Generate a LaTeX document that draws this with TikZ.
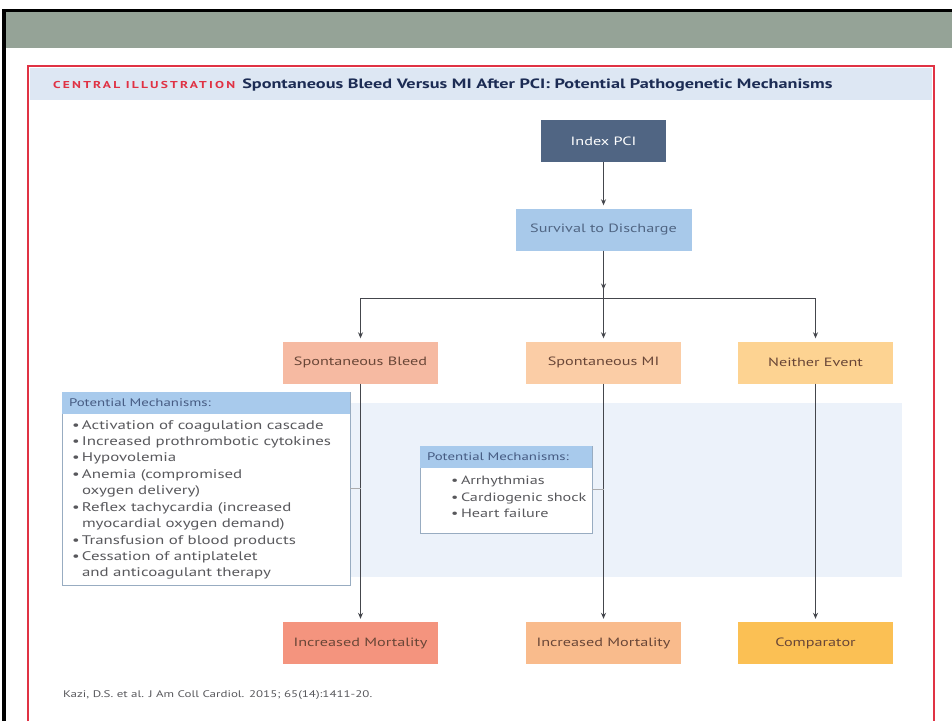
\documentclass[tikz,border=0pt]{standalone}
\usepackage{fontspec}
\setmainfont{PT Sans}[FakeStretch=1.35]
\usepackage{xcolor}
\usepackage{tikz}
\usetikzlibrary{arrows.meta, positioning, calc}
\definecolor{band}{RGB}{149, 163, 151}
\definecolor{redfr}{RGB}{224, 50, 68}
\definecolor{ttlbg}{RGB}{221, 231, 243}
\definecolor{navy}{RGB}{28, 44, 84}
\definecolor{slate}{RGB}{80, 101, 131}
\definecolor{sky}{RGB}{168, 201, 234}
\definecolor{hdr}{RGB}{168, 202, 236}
\definecolor{pale}{RGB}{236, 242, 250}
\definecolor{bleedA}{RGB}{246, 186, 162}
\definecolor{miA}{RGB}{251, 205, 166}
\definecolor{nothA}{RGB}{253, 211, 146}
\definecolor{bleedB}{RGB}{244, 148, 126}
\definecolor{miB}{RGB}{249, 187, 140}
\definecolor{nothB}{RGB}{251, 192, 84}
\definecolor{ink}{RGB}{105, 70, 55}
\definecolor{grtx}{RGB}{88, 88, 92}
\definecolor{lnc}{RGB}{68, 70, 76}
\newcommand{\itm}{\makebox[10pt][l]{\textbullet}}
\newcommand{\ind}{\hspace*{10pt}}

\begin{document}
\begin{tikzpicture}[x=1pt, y=-1pt,
    >={Stealth[length=6pt, width=5pt]},
    box/.style={rectangle, fill=#1, minimum width=155pt, minimum height=42pt,
      inner sep=0pt, align=center, text=ink, font=\fontsize{12}{14}\selectfont},
    mech/.style={rectangle, draw=hdr!60!gray, fill=white, line width=0.6pt, inner sep=0pt},
    mhead/.style={rectangle, fill=hdr, text width=#1, minimum height=22pt,
      inner xsep=7pt, inner ysep=0pt, align=left, text=navy!70!hdr,
      font=\fontsize{11}{13}\selectfont},
    mlist/.style={inner sep=0pt, align=left, text=grtx,
      font=\fontsize{12.5}{16.4}\selectfont},
    arr/.style={->, line width=1.2pt, lnc, shorten >=3pt},
    ln/.style={line width=1.2pt, lnc},
    tick/.style={line width=0.7pt, lnc!45}
  ]
  \useasboundingbox (0,0) rectangle (952,721);
  % slide frame
  \fill[black] (2,9) rectangle (952,12);
  \fill[black] (2,9) rectangle (6,721);
  \fill[band] (6,12) rectangle (952,48);
  \draw[redfr, line width=2.2pt] (28,721) -- (28,66) -- (934,66) -- (934,721);
  \fill[ttlbg] (30,68) rectangle (932,100);
  \node[anchor=west, inner sep=0pt] (title) at (53,85.5)
    {{\color{redfr}\fontsize{10}{10}\bfseries\addfontfeatures{LetterSpace=22}CENTRAL ILLUSTRATION}\hspace{7pt}%
     {\color{navy}\fontsize{13.5}{15}\bfseries Spontaneous Bleed Versus MI After PCI: Potential Pathogenetic Mechanisms}};
  % shaded band behind the mechanisms
  \fill[pale] (350,403) rectangle (902,577);

  \node[box=slate, minimum width=125pt, text=white] (pci) at (603.5,141) {Index PCI};
  \node[box=sky, minimum width=176pt, text=slate] (surv) at (603.5,229.5) {Survival to Discharge};
  \coordinate (split) at (603.5,298.5);

  \node[box=bleedA] (bleed) at (360.5,362.5) {Spontaneous Bleed};
  \node[box=miA] (mi) at (603.5,362.5) {Spontaneous MI};
  \node[box=nothA] (noth) at (815.5,362.5) {Neither Event};

  \node[box=bleedB] (mort1) at (360.5,643) {Increased Mortality};
  \node[box=miB] (mort2) at (603.5,643) {Increased Mortality};
  \node[box=nothB] (comp) at (815.5,643) {Comparator};

  % mechanisms
  \node[mech, minimum width=288pt, minimum height=193pt] (mechL) at (206,488.5) {};
  \node[mhead=274pt, anchor=north] (mechLh) at (mechL.north) {Potential Mechanisms:};
  \node[mlist, anchor=north west] (listL) at ([xshift=10pt, yshift=-6pt]mechLh.south west)
    {\itm Activation of coagulation cascade\\
     \itm Increased prothrombotic cytokines\\
     \itm Hypovolemia\\
     \itm Anemia (compromised\\
     \ind oxygen delivery)\\
     \itm Reflex tachycardia (increased\\
     \ind myocardial oxygen demand)\\
     \itm Transfusion of blood products\\
     \itm Cessation of antiplatelet\\
     \ind and anticoagulant therapy};

  \node[mech, minimum width=172pt, minimum height=87pt] (mechM) at (506,489.5) {};
  \node[mhead=158pt, anchor=north] (mechMh) at (mechM.north) {Potential Mechanisms:};
  \node[mlist, font=\fontsize{12}{16.5}\selectfont, anchor=north west] (listM)
    at ([xshift=31pt, yshift=-8pt]mechMh.south west)
    {\itm Arrhythmias\\
     \itm Cardiogenic shock\\
     \itm Heart failure};

  \node[anchor=west, inner sep=0pt, text=grtx, font=\fontsize{9.6}{11}\selectfont] (cite) at (63,695)
    {Kazi, D.S. et al. J Am Coll Cardiol. 2015; 65(14):1411-20.};

  \draw[arr] (pci) -- (surv);
  \draw[ln] (surv) -- (split);
  \draw[arr] (surv) -- ([yshift=6pt]split);
  \draw[ln] (bleed.north |- split) -- (noth.north |- split);
  \draw[arr] (split) -| (bleed);
  \draw[arr] (split) -- (mi);
  \draw[arr] (split) -| (noth);
  \draw[arr] (bleed) -- (mort1);
  \draw[arr] (mi) -- (mort2);
  \draw[arr] (noth) -- (comp);
  \draw[tick] (mechL.east) -- (mechL.east -| bleed);
  \draw[tick] (mechM.east) -- (mechM.east -| mi);
\end{tikzpicture}
\end{document}
